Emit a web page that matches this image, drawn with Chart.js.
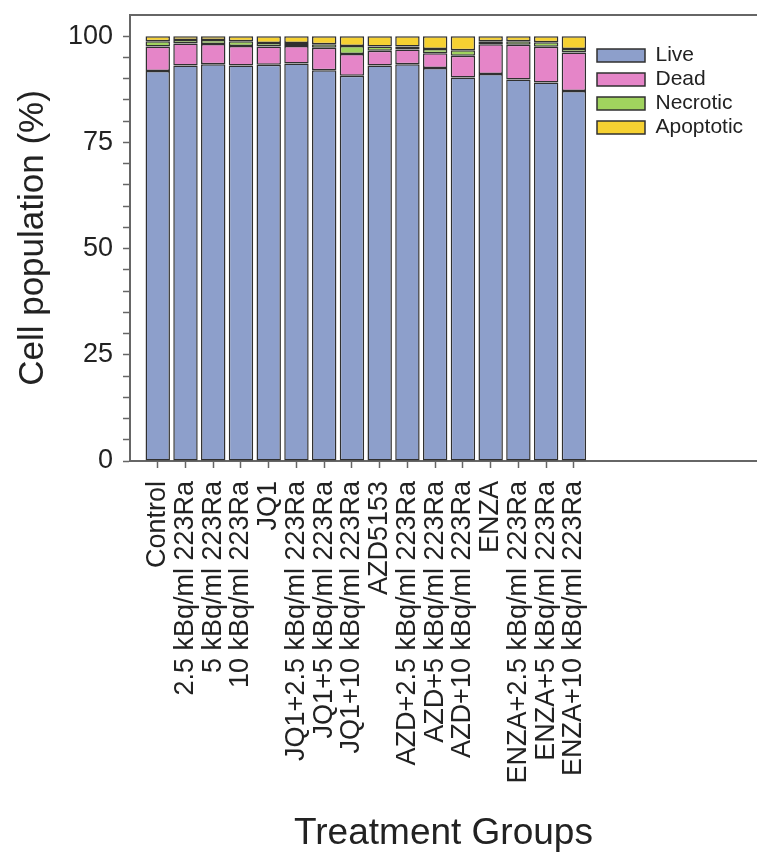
<!DOCTYPE html>
<html>
<head>
<meta charset="utf-8">
<title>Cell population by treatment</title>
<script src="https://cdn.jsdelivr.net/npm/chart.js@4"></script>
<style>
  body { margin: 0; background: #fff; }
  #wrap { width: 757px; height: 852px; }
</style>
</head>
<body>
<div id="wrap"><canvas id="cellChart" width="757" height="852"></canvas></div>
<script>
const groups = [
  "Control",
  "2.5 kBq/ml 223Ra",
  "5 kBq/ml 223Ra",
  "10 kBq/ml 223Ra",
  "JQ1",
  "JQ1+2.5 kBq/ml 223Ra",
  "JQ1+5 kBq/ml 223Ra",
  "JQ1+10 kBq/ml 223Ra",
  "AZD5153",
  "AZD+2.5 kBq/ml 223Ra",
  "AZD+5 kBq/ml 223Ra",
  "AZD+10 kBq/ml 223Ra",
  "ENZA",
  "ENZA+2.5 kBq/ml 223Ra",
  "ENZA+5 kBq/ml 223Ra",
  "ENZA+10 kBq/ml 223Ra"
];

const live      = [91.8, 93.1, 93.4, 93.1, 93.3, 93.6, 92.0, 90.7, 93.1, 93.4, 92.5, 90.3, 91.1, 89.8, 89.1, 87.1];
const dead      = [5.8, 5.2, 4.8, 4.6, 4.3, 4.1, 5.3, 5.1, 3.5, 3.5, 3.5, 5.1, 7.0, 8.2, 8.4, 9.1];
const necrotic  = [1.2, 0.8, 0.9, 1.1, 0.8, 0.7, 0.8, 1.9, 1.0, 0.7, 1.0, 1.3, 0.7, 0.8, 1.1, 0.8];
const apoptotic = [1.2, 0.9, 0.9, 1.2, 1.6, 1.6, 1.9, 2.3, 2.4, 2.4, 3.0, 3.3, 1.2, 1.2, 1.4, 3.0];

const yTickLabels = [0, 25, 50, 75, 100];

const axisGrey = '#666666';
const edge = '#303030';
const fontFamily = '"Liberation Sans", Arial, sans-serif';

// groups sit at x = 1..16 on a linear axis that runs on past the last bar
function toPoints(values) {
  return values.map((v, i) => ({ x: i + 1, y: v }));
}

function makeSet(label, values, colour) {
  return {
    label: label,
    data: toPoints(values),
    backgroundColor: colour,
    borderColor: edge,
    borderWidth: 1.5,
    borderSkipped: false,
    barPercentage: 0.88,
    categoryPercentage: 1.0
  };
}

// no extra inset for the tick labels at the axis ends
function noEndPadding(scale) {
  scale.paddingLeft = 0;
  scale.paddingRight = 0;
  scale.paddingTop = 0;
  scale.paddingBottom = 0;
}

// park the legend in the upper right of the plot area
const legendSpot = {
  id: 'legendSpot',
  afterLayout(chart) {
    const lg = chart.legend;
    if (!lg) return;
    const h = lg.height;
    lg.left = 594;
    lg.right = 594 + lg.width;
    lg.top = 42;
    lg.bottom = 42 + h;
  }
};

new Chart(document.getElementById('cellChart'), {
  type: 'bar',
  data: {
    datasets: [
      makeSet('Live', live, '#8d9fcb'),
      makeSet('Dead', dead, '#e585c8'),
      makeSet('Necrotic', necrotic, '#a0d35e'),
      makeSet('Apoptotic', apoptotic, '#f6d132')
    ]
  },
  plugins: [legendSpot],
  options: {
    responsive: false,
    animation: false,
    layout: { padding: { top: 15, right: 0, left: 0, bottom: 0 } },
    plugins: {
      tooltip: { enabled: false },
      legend: {
        position: 'chartArea',
        align: 'start',
        labels: {
          boxWidth: 48,
          boxHeight: 13,
          padding: 3,
          color: '#222',
          font: { family: fontFamily, size: 21 }
        }
      }
    },
    scales: {
      x: {
        type: 'linear',
        stacked: true,
        offset: false,
        min: 0,
        max: 22.6,
        afterBuildTicks(scale) {
          scale.ticks = scale.ticks.filter(t => t.value >= 1 && t.value <= groups.length);
        },
        afterFit(scale) {
          scale.height = 852 - 461;
          noEndPadding(scale);
        },
        ticks: {
          stepSize: 1,
          autoSkip: false,
          minRotation: 90,
          maxRotation: 90,
          padding: 13,
          color: '#222',
          font: { family: fontFamily, size: 27 },
          callback: v => groups[v - 1] || ''
        },
        grid: {
          offset: false,
          drawOnChartArea: false,
          drawTicks: true,
          tickLength: 7,
          tickWidth: 1.5,
          color: axisGrey
        },
        border: { display: true, color: axisGrey, width: 2 },
        title: {
          display: true,
          text: 'Treatment Groups',
          color: '#222',
          font: { family: fontFamily, size: 37, lineHeight: 1 },
          padding: { top: 0, bottom: 0 }
        }
      },
      xTop: {
        type: 'linear',
        position: 'top',
        offset: false,
        min: 0,
        max: 22.6,
        afterFit(scale) {
          scale.height = 0;
          noEndPadding(scale);
        },
        ticks: { display: false },
        grid: { display: false, drawTicks: false },
        border: { display: true, color: axisGrey, width: 2 }
      },
      y: {
        stacked: true,
        min: 0,
        max: 105,
        afterBuildTicks(scale) {
          scale.ticks = scale.ticks.filter(t => t.value <= 100);
        },
        afterFit(scale) {
          scale.width = 130;
          noEndPadding(scale);
        },
        ticks: {
          stepSize: 5,
          autoSkip: false,
          padding: 10,
          color: '#222',
          font: { family: fontFamily, size: 27 },
          callback: v => yTickLabels.includes(v) ? String(v) : ''
        },
        grid: {
          drawOnChartArea: false,
          drawTicks: true,
          tickLength: 7,
          tickWidth: 1.5,
          color: axisGrey
        },
        border: { display: true, color: axisGrey, width: 2 },
        title: {
          display: true,
          text: 'Cell population (%)',
          color: '#222',
          font: { family: fontFamily, size: 35, lineHeight: 1 },
          padding: { top: 16, bottom: 0 }
        }
      }
    }
  }
});
</script>
</body>
</html>
